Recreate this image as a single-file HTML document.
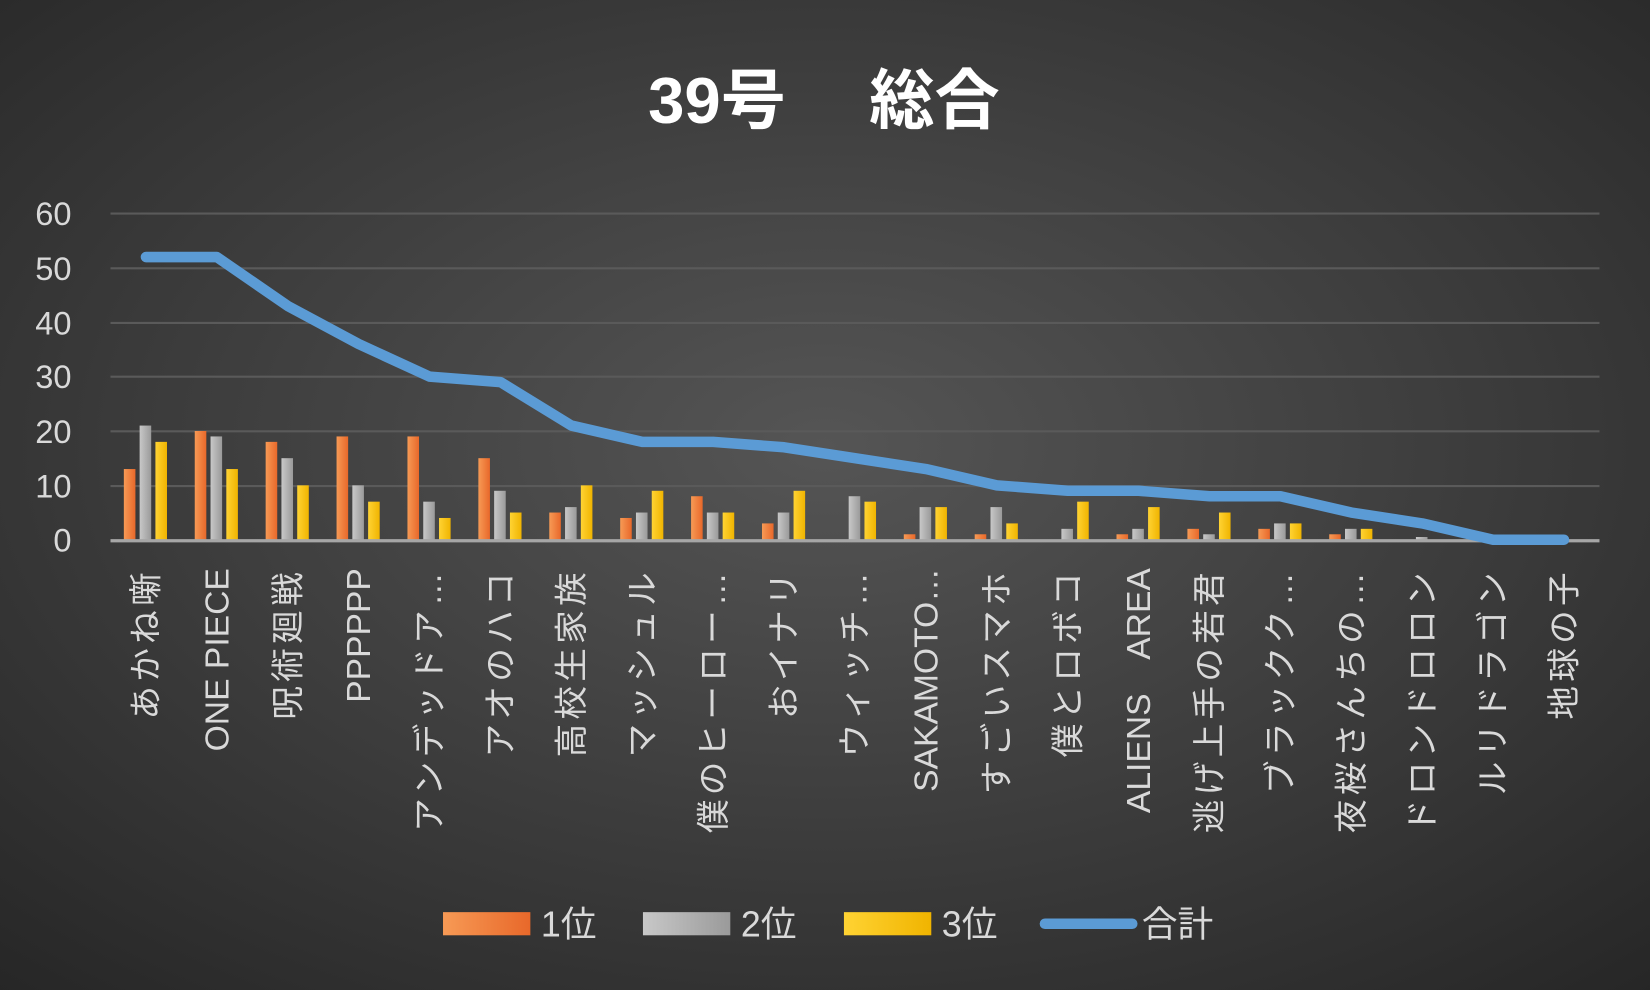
<!DOCTYPE html>
<html><head><meta charset="utf-8"><style>
html,body{margin:0;padding:0;background:#333;}
svg{display:block;}
text{font-family:"Liberation Sans","Noto Sans CJK JP",sans-serif;fill:#d9d9d9;}
</style></head><body>
<svg width="1650" height="990" viewBox="0 0 1568 941" preserveAspectRatio="none" xmlns="http://www.w3.org/2000/svg">
<defs>
<radialGradient id="bg" cx="50%" cy="45%" r="75%">
<stop offset="0" stop-color="#555555"/><stop offset="1" stop-color="#262626"/>
</radialGradient>
<linearGradient id="o" x1="0" x2="1"><stop offset="0" stop-color="#f79a55"/><stop offset="1" stop-color="#e8682a"/></linearGradient>
<linearGradient id="g" x1="0" x2="1"><stop offset="0" stop-color="#c8c8c8"/><stop offset="1" stop-color="#9a9a9a"/></linearGradient>
<linearGradient id="y" x1="0" x2="1"><stop offset="0" stop-color="#ffd333"/><stop offset="1" stop-color="#f0b400"/></linearGradient>
</defs>
<rect width="1568" height="941" fill="url(#bg)"/>
<text x="783" y="117" text-anchor="middle" font-size="62" font-weight="bold" style="fill:#fff">39号　 総合</text>
<g stroke="#5a5a5a" stroke-width="2">
<line x1="105" x2="1520" y1="203" y2="203"/><line x1="105" x2="1520" y1="255" y2="255"/>
<line x1="105" x2="1520" y1="307" y2="307"/><line x1="105" x2="1520" y1="358" y2="358"/>
<line x1="105" x2="1520" y1="410" y2="410"/><line x1="105" x2="1520" y1="462" y2="462"/>
</g>
<g font-size="31" text-anchor="end">
<text x="68" y="214">60</text><text x="68" y="266">50</text><text x="68" y="318">40</text>
<text x="68" y="369">30</text><text x="68" y="421">20</text><text x="68" y="473">10</text><text x="68" y="524">0</text>
</g>
<g id="bars"></g>
<line x1="105" x2="1520" y1="514" y2="514" stroke="#a6a6a6" stroke-width="3"/>
<polyline id="ln" fill="none" stroke="#5b9bd5" stroke-width="10" stroke-linejoin="round" stroke-linecap="round"/>
<g id="labels" font-size="32" text-anchor="end"></g>
<rect x="421" y="867" width="83" height="22" fill="url(#o)"/><text x="514" y="890" font-size="34">1位</text>
<rect x="611" y="867" width="83" height="22" fill="url(#g)"/><text x="704" y="890" font-size="34">2位</text>
<rect x="802" y="867" width="83" height="22" fill="url(#y)"/><text x="895" y="890" font-size="34">3位</text>
<line x1="993" x2="1076" y1="878" y2="878" stroke="#5b9bd5" stroke-width="10" stroke-linecap="round"/><text x="1085" y="890" font-size="34">合計</text>
<script>
var d=[["あかね噺",13,21,18,52],["ONE PIECE",20,19,13,52],["呪術廻戦",18,15,10,43],["PPPPPP",19,10,7,36],["アンデッドア…",19,7,4,30],["アオのハコ",15,9,5,29],["高校生家族",5,6,10,21],["マッシュル",4,5,9,18],["僕のヒーロー…",8,5,5,18],["おイナリ",3,5,9,17],["ウィッチ…",0,8,7,15],["SAKAMOTO…",1,6,6,13],["すごいスマホ",1,6,3,10],["僕とロボコ",0,2,7,9],["ALIENS　AREA",1,2,6,9],["逃げ上手の若君",2,1,5,8],["ブラックク…",2,3,3,8],["夜桜さんちの…",1,2,2,5],["ドロンドロロン",0,0.5,0,3],["ルリドラゴン",0,0,0,0],["地球の子",0,0,0,0]];
var ns="http://www.w3.org/2000/svg",b=document.getElementById("bars"),L=document.getElementById("labels"),pts=[];
var s=310/60,w=1415/21;
d.forEach(function(r,i){var c=105+w*(i+0.5);
["url(#o)","url(#g)","url(#y)"].forEach(function(f,k){var v=r[k+1];if(!v)return;var e=document.createElementNS(ns,"rect");
e.setAttribute("x",c-21+k*15);e.setAttribute("width",11);e.setAttribute("y",513-v*s);e.setAttribute("height",v*s);e.setAttribute("fill",f);b.appendChild(e);});
pts.push(c+","+(513-r[4]*s));
var t=document.createElementNS(ns,"text");t.setAttribute("transform","translate("+(c+11)+",540) rotate(-90)");
if(/[^\x00-\x7f]/.test(r[0].replace("…","").replace("　","")))t.setAttribute("letter-spacing","4");
t.textContent=r[0];L.appendChild(t);});
document.getElementById("ln").setAttribute("points",pts.join(" "));
</script>
</svg>
</body></html>
